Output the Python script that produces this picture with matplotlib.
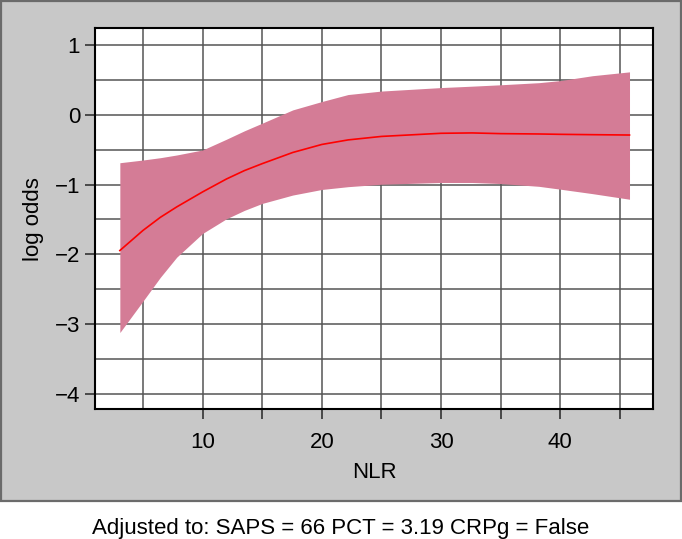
import matplotlib
matplotlib.use("Agg")
import matplotlib.pyplot as plt
from matplotlib.patches import Rectangle

plt.rcParams['font.family'] = ['Liberation Sans', 'DejaVu Sans']

# values
nlr = [3.06, 5, 6.45, 7.83, 10, 12, 13.5, 15, 17.56, 20, 22.2, 25, 30, 32.6,
       35, 38.2, 40, 42.7, 45.8]
log_odds = [-1.945, -1.657, -1.47, -1.32, -1.105, -0.92, -0.80, -0.70, -0.54,
            -0.425, -0.36, -0.31, -0.265, -0.26, -0.27, -0.275, -0.28, -0.285, -0.29]
upper = [-0.687, -0.648, -0.615, -0.576, -0.504, -0.35, -0.23, -0.12, 0.07,
         0.19, 0.29, 0.34, 0.39, 0.41, 0.43, 0.46, 0.49, 0.56, 0.615]
lower = [-3.12, -2.67, -2.33, -2.04, -1.70, -1.49, -1.37, -1.27, -1.15,
         -1.07, -1.03, -0.995, -0.97, -0.97, -0.985, -1.025, -1.066, -1.13, -1.21]
x_ticks = [10, 15, 20, 25, 30, 35, 40, 45]
x_labels = ["10", "", "20", "", "30", "", "40", ""]
y_ticks = [1, 0, -1, -2, -3, -4]
caption = "Adjusted to: SAPS = 66 PCT = 3.19 CRPg = False"


def main():
    fig = plt.figure(figsize=(6.82, 5.39), dpi=100)
    fig.patches.append(Rectangle((0.001, 0.0705), 0.997, 0.928, transform=fig.transFigure,
                                 facecolor="#c8c8c8", edgecolor="#6b6b6b", lw=1.6,
                                 zorder=-5))
    ax = fig.add_axes([0.139, 0.2406, 0.819, 0.707])
    ax.set_facecolor("white")

    for gx in range(5, 50, 5):
        ax.axvline(gx, color="#555555", lw=1.1, zorder=1)
    for gy in [v / 2 for v in range(-8, 3)]:
        ax.axhline(gy, color="#555555", lw=1.1, zorder=1)

    ax.fill_between(nlr, lower, upper, color="#d47c96", lw=0, zorder=2)
    ax.plot(nlr, log_odds, color="red", lw=1.2, zorder=3)

    ax.set_xlim(0.96, 47.8)
    ax.set_ylim(-4.22, 1.24)
    ax.set_xticks(x_ticks)
    ax.set_xticklabels(x_labels)
    ax.set_yticks(y_ticks)
    ax.set_yticklabels(["1", "0", "\u22121", "\u22122", "\u22123", "\u22124"])
    ax.tick_params(axis="both", labelsize=16, length=7.5, width=1.2, color="#333333")
    ax.tick_params(axis="x", pad=9)
    ax.tick_params(axis="y", pad=3)
    for s in ax.spines.values():
        s.set_linewidth(1.5)
        s.set_color("black")
        s.set_zorder(4)

    ax.set_xlabel("NLR", fontsize=16, labelpad=6.5)
    ax.set_ylabel("log odds", fontsize=16, labelpad=8)
    fig.text(0.5, 0.019, caption, ha="center", va="center", fontsize=16)

    fig.savefig("out.png", dpi=100)


if __name__ == "__main__":
    main()
